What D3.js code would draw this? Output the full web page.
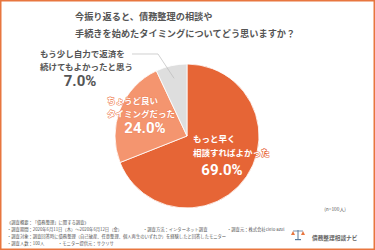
<!DOCTYPE html>
<html><head><meta charset="utf-8">
<script src="https://cdn.jsdelivr.net/npm/d3@7"></script>
<style>
html,body{margin:0;padding:0;background:#fff;}
svg{display:block;font-family:"Noto Sans CJK JP","Noto Sans",sans-serif;}
</style></head><body>
<svg id="c" width="375" height="250"></svg>
<script>
const categories = ["もっと早く相談すればよかった", "ちょうど良いタイミングだった", "もう少し自力で返済を続けてもよかったと思う"];
const labelLines = [["もっと早く", "相談すればよかった"], ["ちょうど良い", "タイミングだった"], ["もう少し自力で返済を", "続けてもよかったと思う"]];
const values = [69.0, 24.0, 7.0];
const titleLines = ["今振り返ると、債務整理の相談や", "手続きを始めたタイミングについてどう思いますか？"];
const footerLines = [
  "《調査概要：「債務整理」に関する調査》",
  "・調査期間：2020年6月11日（木）～2020年6月12日（金）",
  "・調査対象：調査回答時に債務整理（自己破産、任意整理、個人再生のいずれか）を経験したと回答したモニター",
  "・調査人数：100人"
];
const footerExtra = [
  {line: 1, x: 143, text: "・調査方法：インターネット調査"},
  {line: 1, x: 227, text: "・調査元：株式会社cielo azul"},
  {line: 3, x: 58, text: "・モニター提供元：サクリサ"}
];
const sampleNote = "(n=100人)";
const brand = "債務整理相談ナビ";

const colors = ["#E66536", "#F4956F", "#DEDEDE"];
const strokeCol = ["#E66536", "#F08A64", null];

const svg = d3.select("#c");
svg.append("rect").attr("x",0.75).attr("y",0.75).attr("width",373.5).attr("height",248.5)
  .attr("fill","#fff").attr("stroke","#E8763F").attr("stroke-width",1.5);

const tg = svg.append("g");
titleLines.forEach((t,i)=>{
  tg.append("text").attr("x",75).attr("y",20+i*17).attr("font-size",9.2).attr("font-weight",700)
    .attr("fill","#555").text(t);
});

const cx=187, cy=136, r=72;
const pie = d3.pie().sort(null).value(d=>d);
const arc = d3.arc().innerRadius(0).outerRadius(r);
const arcs = pie(values);
const pg = svg.append("g").attr("transform",`translate(${cx},${cy})`);
pg.selectAll("path").data(arcs).join("path").attr("d",arc)
  .attr("fill",(d,i)=>colors[i]).attr("stroke","#fff").attr("stroke-width",0.8);

// leader line for gray slice
const grayArc = arcs[2];
const mid = (grayArc.startAngle+grayArc.endAngle)/2;
const pIn = [cx + Math.sin(mid)*r*0.82, cy - Math.cos(mid)*r*0.82];
svg.append("polyline").attr("points",`132,54 158,54 ${pIn[0]},${pIn[1]}`)
  .attr("fill","none").attr("stroke","#bbb").attr("stroke-width",0.7);

const layout = [
  {x:193, ys:[142,156], px:222, py:175, anchor:"start"},
  {x:107, ys:[104,117], px:145, py:133, anchor:"start"},
  {x:40, ys:[57,70], px:80, py:86, anchor:"start"}
];
const lg = svg.append("g");
values.forEach((v,i)=>{
  const L = layout[i];
  const white = i<2;
  labelLines[i].forEach((t,j)=>{
    const tx = lg.append("text").attr("x",L.x).attr("y",L.ys[j]).attr("font-size",8.5).attr("font-weight",700)
      .attr("fill", white?"#fff":"#555").text(t);
    if(white) tx.attr("stroke",strokeCol[i]).attr("stroke-width",1.2).attr("paint-order","stroke").attr("stroke-linejoin","round");
  });
  const pt = lg.append("text").attr("x",L.px).attr("y",L.py).attr("text-anchor","middle")
    .attr("font-size",15).attr("font-weight",700).attr("font-family","Roboto,'Noto Sans',sans-serif")
    .attr("fill", white?"#fff":"#555").text(v.toFixed(1)+"%");
  if(white) pt.attr("stroke",strokeCol[i]).attr("stroke-width",1).attr("paint-order","stroke");
});

svg.append("text").attr("x",335).attr("y",211).attr("text-anchor","middle").attr("font-size",4.8)
  .attr("fill","#555").text(sampleNote);

const fg = svg.append("g");
const fy = [225, 232, 239, 246].map(v=>v-1.5);
footerLines.forEach((t,i)=>{
  fg.append("text").attr("x",7).attr("y",fy[i]).attr("font-size",4.3).attr("fill","#555").text(t);
});
footerExtra.forEach(e=>{
  fg.append("text").attr("x",e.x).attr("y",fy[e.line]).attr("font-size",4.3).attr("fill","#555").text(e.text);
});

// brand logo (scales icon)
const bg = svg.append("g").attr("transform","translate(298,234)");
bg.append("line").attr("x1",0).attr("y1",-4).attr("x2",0).attr("y2",5).attr("stroke","#5a7a9a").attr("stroke-width",1);
bg.append("line").attr("x1",-5).attr("y1",-3).attr("x2",5).attr("y2",-3).attr("stroke","#5a7a9a").attr("stroke-width",0.8);
bg.append("path").attr("d","M-7,1 L-5,-3 L-3,1 Z M3,1 L5,-3 L7,1 Z").attr("fill","#E8763F");
bg.append("rect").attr("x",-3).attr("y",5).attr("width",6).attr("height",1.2).attr("fill","#5a7a9a");
svg.append("text").attr("x",312).attr("y",240).attr("font-size",5.7).attr("font-weight",700)
  .attr("fill","#666").text(brand);
</script>
</body></html>
